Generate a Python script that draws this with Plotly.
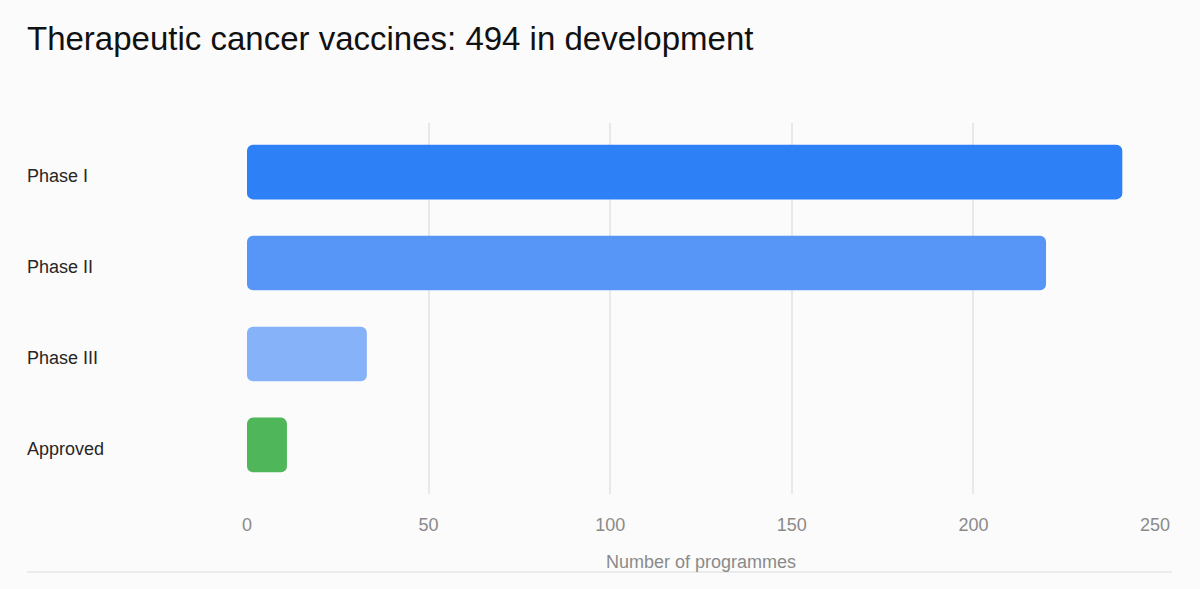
import plotly.graph_objects as go

categories = ["Phase I", "Phase II", "Phase III", "Approved"]
values = [241, 220, 33, 11]
colors = ["#2d80f6", "#5796f7", "#86b2f9", "#4fb65a"]
x_ticks = [0, 50, 100, 150, 200, 250]

FONT = "Liberation Sans, Arial, sans-serif"

fig = go.Figure()
fig.add_trace(go.Bar(
    y=categories, x=values, base=[0] * len(values), orientation="h",
    marker=dict(color=colors, line=dict(width=0)), width=0.6,
    hovertemplate="%{y}: %{x}<extra></extra>", showlegend=False,
))

annotations = [
    dict(x=(25 - 247) / 908, xref="paper", y=c, yref="y", text=c, showarrow=False,
         xanchor="left", yanchor="middle", yshift=-4,
         font=dict(family=FONT, size=18, color="#262626"))
    for c in categories
]

fig.update_layout(
    width=1200, height=589,
    paper_bgcolor="#fbfbfb", plot_bgcolor="#fbfbfb",
    barcornerradius=6,
    margin=dict(l=247, r=45, t=123, b=95),
    title=dict(text="Therapeutic cancer vaccines: 494 in development",
               x=27 / 1200, xanchor="left", y=1 - 38 / 589, yanchor="middle",
               font=dict(family=FONT, size=33, color="#111111")),
    xaxis=dict(range=[0, 250], tickvals=x_ticks, showgrid=True, gridcolor="#e8e8e8", gridwidth=1.5,
               zeroline=False, showline=False, ticks="outside", ticklen=14,
               tickcolor="rgba(0,0,0,0)",
               tickfont=dict(family=FONT, size=18, color="#8a8a8a"),
               title=dict(text="Number of programmes", standoff=21,
                          font=dict(family=FONT, size=18, color="#8a8a8a"))),
    yaxis=dict(categoryorder="array", categoryarray=categories, range=[3.54, -0.54],
               showticklabels=False, showgrid=False, zeroline=False, ticks=""),
    annotations=annotations,
    shapes=[dict(type="line", xref="paper", yref="paper",
                 x0=(27 - 247) / 908, x1=(1172 - 247) / 908,
                 y0=-(572 - 494) / 371, y1=-(572 - 494) / 371,
                 line=dict(color="#e6e6e6", width=1.5))],
)

fig.write_html("out.html", config={"displayModeBar": False},
               post_script="document.body.style.margin='0';")
